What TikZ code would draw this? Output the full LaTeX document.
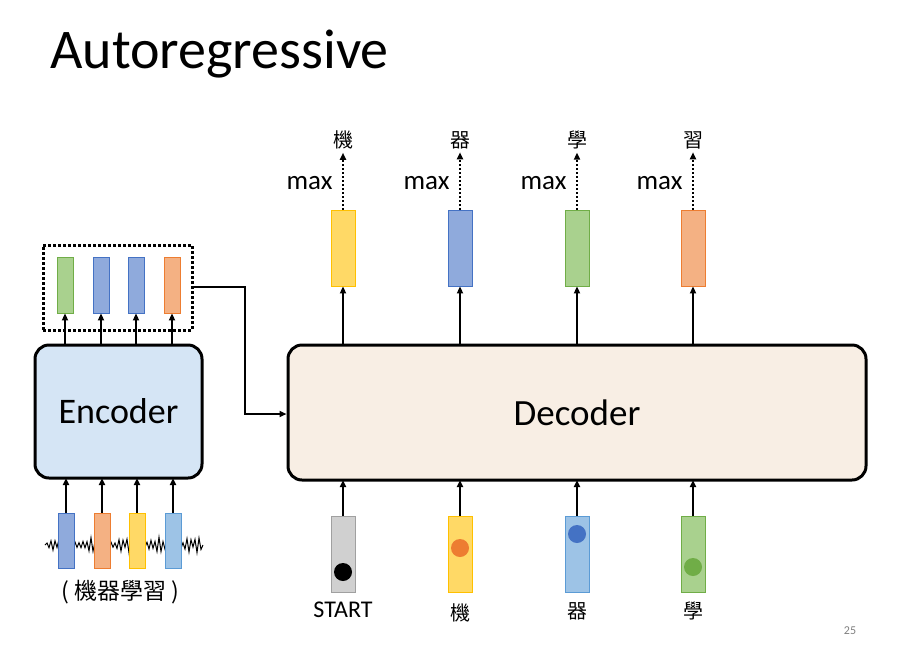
\documentclass[tikz,border=0pt]{standalone}
\usepackage{fontspec}
\setmainfont{Carlito}
\newfontfamily\cjk{Noto Sans CJK TC}
\usetikzlibrary{arrows.meta}
\definecolor{cgreen}{HTML}{A9D18E}\definecolor{cgreenD}{HTML}{70AD47}
\definecolor{cblue}{HTML}{8FAADC}\definecolor{cblueD}{HTML}{4472C4}
\definecolor{corange}{HTML}{F4B183}\definecolor{corangeD}{HTML}{ED7D31}
\definecolor{cyellow}{HTML}{FFD966}\definecolor{cyellowD}{HTML}{FFC000}
\definecolor{clblue}{HTML}{9DC3E6}\definecolor{clblueD}{HTML}{5B9BD5}
\definecolor{cgray}{HTML}{D0D0D0}\definecolor{cgrayD}{HTML}{A0A0A0}
\definecolor{encfill}{HTML}{D5E5F5}\definecolor{decfill}{HTML}{F8EEE4}
\begin{document}
\begin{tikzpicture}[x=1pt,y=-1pt,
  vec/.style={draw=#1D,fill=#1,line width=0.8pt},
  arr/.style={-{Triangle[length=7pt,width=6pt]},line width=2pt},
  darr/.style={-{Triangle[length=7pt,width=6pt]},line width=2pt,dotted},
  big/.style={draw=black,line width=3pt,rounded corners=14pt},
  lab/.style={font=\cjk\fontsize{20}{22}\selectfont},
  mx/.style={font=\fontsize{27}{29}\selectfont}]
\useasboundingbox[fill=white] (0,0) rectangle (899,646);
\node[anchor=base west,font=\fontsize{56}{60}\selectfont,inner sep=0] (title) at (50,68) {Autoregressive};
% encoder
\node[big,fill=encfill,minimum width=167pt,minimum height=133pt,font=\fontsize{36}{38}\selectfont] (enc) at (118.5,411.5) {Encoder};
\node[draw,dotted,line width=3pt,minimum width=149pt,minimum height=85pt] (dot) at (117.5,287.5) {};
\foreach \x/\c [count=\i] in {65/cgreen,101/cblue,136/cblue,172/corange}{
  \node[vec=\c,minimum width=16pt,minimum height=56pt,inner sep=0] (e\i) at (\x,285) {};
  \draw[arr] (\x,345) -- (e\i.south);
}
% waveform
\draw[line width=1pt] (45,545) \foreach \k in {0,...,77}{ -- ({47+2*\k},{545+(mod(\k,2)*2-1)*(2+6*abs(sin(\k*37))*abs(sin(\k*11)))}) } -- (203,545);
\foreach \x/\c [count=\i] in {66/cblue,102/corange,137/cyellow,173/clblue}{
  \node[vec=\c,minimum width=16pt,minimum height=55pt,inner sep=0] (i\i) at (\x,540.5) {};
  \draw[arr] (i\i.north) -- (\x,478);
}
\node[font=\cjk\fontsize{23}{25}\selectfont] (inlab) at (120,592) {( 機器學習 )};
% decoder
\node[big,fill=decfill,minimum width=578pt,minimum height=135pt,font=\fontsize{37}{39}\selectfont] (dec) at (577,412.5) {Decoder};
\coordinate (c1) at (245,287);\coordinate (c2) at (245,414);
\draw[arr] (dot.east |- c1) -- (c1) -- (c2) -- (dec.west |- c2);
% outputs
\foreach \x/\c/\t [count=\i] in {343/cyellow/機,460/cblue/器,577/cgreen/學,693/corange/習}{
  \node[vec=\c,minimum width=24pt,minimum height=76pt,inner sep=0] (o\i) at (\x,248) {};
  \draw[arr] (\x,345) -- (o\i.south);
  \node[lab] (t\i) at (\x,140) {\t};
  \draw[darr] (o\i.north) -- (t\i.south);
  \node[mx,anchor=east] (m\i) at (\x-7,183) {max};
}
% decoder inputs
\foreach \x/\c/\d/\dy/\t [count=\i] in {343/cgray/black/572/START,460/cyellow/corangeD/548/機,577/clblue/cblueD/534/器,693/cgreen/cgreenD/567/學}{
  \node[vec=\c,minimum width=24pt,minimum height=76pt,inner sep=0] (d\i) at (\x,554) {};
  \fill[\d] (\x,\dy) circle (9pt);
  \draw[arr] (d\i.north) -- (\x,480);
}
\node[font=\fontsize{24}{26}\selectfont] (s1) at (343,610) {START};
\node[lab] (s2) at (460,613) {機};
\node[lab] (s3) at (577,611) {器};
\node[lab] (s4) at (693,611) {學};
\node[text=gray,font=\fontsize{12}{14}\selectfont] (pg) at (850,631) {25};
\end{tikzpicture}
\end{document}
